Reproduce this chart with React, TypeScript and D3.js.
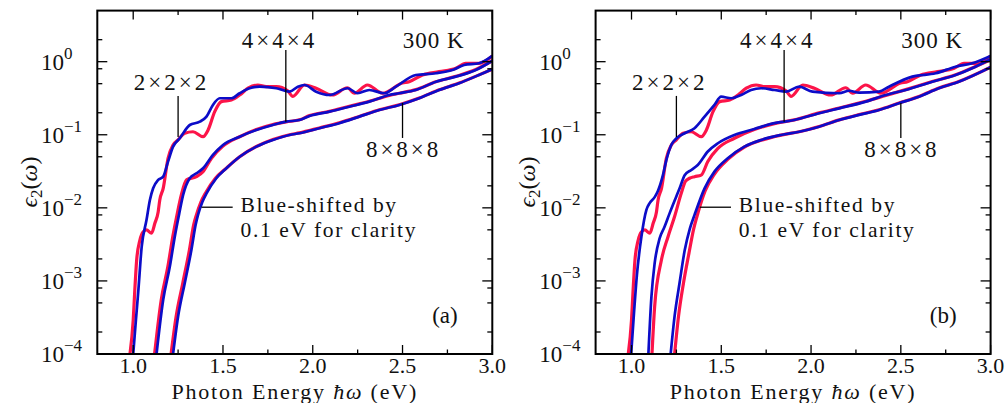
import * as d3 from "d3";

// axis extents and tick values
const E_DOMAIN: [number, number] = [0.8, 3.0];
const EPS_DOMAIN: [number, number] = [1e-4, 5];
const xMajorTicks = [1.0, 1.5, 2.0, 2.5, 3.0];
const xMinorTicks = [1.25, 1.75, 2.25, 2.75];
const yDecades = [-4, -3, -2, -1, 0];
const yMinorFactors = [2, 5, 8];
const panelTags = ["(a)", "(b)"];

type Pt = [number, number];

// panel (a): [photon energy eV, eps2]
const aRed222: Pt[] = [[0.982,1.0e-4],[1.0,2.9e-4],[1.009,7.6e-4],[1.019,1.9e-3],[1.037,3.6e-3],[1.056,4.7e-3],[1.074,5.0e-3],[1.102,4.5e-3],[1.121,6.2e-3],[1.139,8.8e-3],[1.148,1.28e-2],[1.167,1.85e-2],[1.194,4.77e-2],[1.222,7.25e-2],[1.25,8.5e-2],[1.287,0.105],[1.333,0.11],[1.389,0.094],[1.417,0.116],[1.454,0.207],[1.491,0.284],[1.547,0.299],[1.593,0.35],[1.639,0.433],[1.694,0.48],[1.741,0.455],[1.797,0.455],[1.86,0.4],[1.889,0.335],[1.954,0.48],[2.019,0.433],[2.109,0.35],[2.193,0.44],[2.232,0.37],[2.304,0.48],[2.388,0.37],[2.499,0.51],[2.537,0.532],[2.611,0.658],[2.704,0.73],[2.797,0.812],[2.852,0.951],[2.926,0.951],[3.0,1.2]];
const aBlue222: Pt[] = [[1.0,1e-4],[1.015,2.9e-4],[1.029,7.6e-4],[1.047,2.9e-3],[1.074,6.8e-3],[1.093,1.28e-2],[1.111,1.85e-2],[1.139,2.41e-2],[1.167,2.67e-2],[1.194,4.29e-2],[1.222,6.88e-2],[1.259,8.95e-2],[1.315,0.136],[1.371,0.151],[1.408,0.177],[1.444,0.256],[1.482,0.316],[1.547,0.316],[1.593,0.37],[1.648,0.433],[1.704,0.455],[1.797,0.433],[1.871,0.389],[1.917,0.455],[1.954,0.48],[2.019,0.389],[2.093,0.35],[2.194,0.433],[2.25,0.37],[2.315,0.41],[2.398,0.37],[2.463,0.455],[2.574,0.658],[2.686,0.694],[2.778,0.769],[2.843,0.901],[2.926,0.951],[3.0,1.2]];
const aRed444: Pt[] = [[1.119,1e-4],[1.156,5.5e-4],[1.193,1.57e-3],[1.221,4.1e-3],[1.246,8.5e-3],[1.268,1.5e-2],[1.297,2.41e-2],[1.352,2.67e-2],[1.389,3.13e-2],[1.436,4.77e-2],[1.5,7.0e-2],[1.593,9.4e-2],[1.686,0.118],[1.778,0.138],[1.852,0.15],[1.926,0.16],[1.982,0.183],[2.093,0.209],[2.204,0.245],[2.315,0.287],[2.426,0.345],[2.482,0.37],[2.574,0.415],[2.686,0.53],[2.797,0.63],[2.908,0.78],[3.0,1.03]];
const aBlue444: Pt[] = [[1.13,1e-4],[1.167,5.5e-4],[1.204,1.57e-3],[1.232,4.1e-3],[1.257,8.5e-3],[1.278,1.5e-2],[1.315,2.54e-2],[1.352,2.97e-2],[1.389,3.48e-2],[1.444,5.29e-2],[1.5,7.25e-2],[1.593,9.42e-2],[1.686,0.116],[1.778,0.136],[1.852,0.151],[1.926,0.159],[1.982,0.181],[2.093,0.207],[2.204,0.242],[2.315,0.284],[2.426,0.35],[2.482,0.37],[2.574,0.41],[2.686,0.532],[2.797,0.624],[2.908,0.769],[3.0,1.03]];
const aRed888: Pt[] = [[1.211,1e-4],[1.239,3.25e-4],[1.276,9.3e-4],[1.313,2.65e-3],[1.337,5.9e-3],[1.352,8e-3],[1.377,1.2e-2],[1.403,1.6e-2],[1.458,2.54e-2],[1.519,3.5e-2],[1.593,5.0e-2],[1.686,6.9e-2],[1.778,8.6e-2],[1.871,0.1],[1.926,0.106],[2.037,0.124],[2.148,0.146],[2.259,0.178],[2.371,0.22],[2.482,0.258],[2.593,0.318],[2.704,0.412],[2.815,0.51],[2.926,0.66],[3.0,0.79]];
const aBlue888: Pt[] = [[1.222,1e-4],[1.25,3.25e-4],[1.287,9.3e-4],[1.324,2.65e-3],[1.348,5.9e-3],[1.361,8e-3],[1.385,1.2e-2],[1.41,1.6e-2],[1.463,2.54e-2],[1.519,3.48e-2],[1.593,5.0e-2],[1.686,6.88e-2],[1.778,8.49e-2],[1.871,9.94e-2],[1.926,0.105],[2.037,0.123],[2.148,0.144],[2.259,0.177],[2.371,0.218],[2.482,0.256],[2.593,0.316],[2.704,0.41],[2.815,0.507],[2.926,0.658],[3.0,0.79]];

// panel (b)
const bRed222: Pt[] = aRed222;
const bBlue222: Pt[] = [[0.998,1e-4],[1.015,4e-4],[1.03,1.2e-3],[1.055,4.0e-3],[1.083,9.4e-3],[1.101,1.16e-2],[1.129,1.4e-2],[1.147,1.7e-2],[1.175,2.8e-2],[1.194,4.5e-2],[1.222,7.3e-2],[1.249,8.9e-2],[1.296,0.105],[1.351,0.123],[1.407,0.177],[1.462,0.256],[1.499,0.332],[1.555,0.316],[1.611,0.35],[1.666,0.41],[1.722,0.433],[1.796,0.41],[1.861,0.389],[1.934,0.455],[2.008,0.389],[2.157,0.37],[2.212,0.4],[2.268,0.377],[2.379,0.389],[2.434,0.455],[2.564,0.624],[2.694,0.694],[2.805,0.854],[2.897,0.95],[3.0,1.2]];
const bRed444: Pt[] = [[1.114,1e-4],[1.129,4.5e-4],[1.166,1.9e-3],[1.203,4.0e-3],[1.24,7.6e-3],[1.277,1.58e-2],[1.3,2.3e-2],[1.323,2.54e-2],[1.351,2.67e-2],[1.388,2.8e-2],[1.425,4.3e-2],[1.481,6.5e-2],[1.573,8.95e-2],[1.684,0.118],[1.796,0.142],[1.907,0.16],[2.045,0.199],[2.157,0.232],[2.305,0.287],[2.416,0.345],[2.527,0.415],[2.675,0.535],[2.805,0.66],[2.916,0.86],[3.0,1.06]];
const bBlue444: Pt[] = [[1.094,1e-4],[1.111,6.1e-4],[1.129,1.75e-3],[1.157,3.84e-3],[1.184,5.5e-3],[1.212,8.4e-3],[1.249,1.42e-2],[1.268,1.85e-2],[1.296,2.8e-2],[1.333,3.3e-2],[1.369,3.86e-2],[1.425,5.9e-2],[1.481,7.65e-2],[1.573,9.94e-2],[1.684,0.12],[1.796,0.144],[1.907,0.159],[2.045,0.197],[2.157,0.23],[2.305,0.284],[2.416,0.35],[2.527,0.41],[2.675,0.532],[2.805,0.658],[2.916,0.854],[3.0,1.08]];
const bRed888: Pt[] = [[1.24,1e-4],[1.262,3.3e-4],[1.29,9.5e-4],[1.32,2.4e-3],[1.345,5e-3],[1.37,8.5e-3],[1.41,1.7e-2],[1.462,2.9e-2],[1.536,4.6e-2],[1.629,6.8e-2],[1.722,8.4e-2],[1.833,9.9e-2],[1.934,0.11],[2.045,0.13],[2.157,0.16],[2.268,0.189],[2.379,0.22],[2.49,0.272],[2.601,0.335],[2.712,0.435],[2.823,0.535],[3.0,0.84]];
const bBlue888: Pt[] = [[1.218,1e-4],[1.24,3.3e-4],[1.268,9.5e-4],[1.296,2.6e-3],[1.325,5.2e-3],[1.351,8e-3],[1.407,1.85e-2],[1.462,3.13e-2],[1.536,4.77e-2],[1.629,6.88e-2],[1.722,8.5e-2],[1.833,9.94e-2],[1.934,0.11],[2.045,0.129],[2.157,0.159],[2.268,0.187],[2.379,0.218],[2.49,0.27],[2.601,0.332],[2.712,0.433],[2.823,0.532],[3.0,0.84]];

const panelCurves: { red: Pt[]; blue: Pt[] }[][] = [
  [{ red: aRed222, blue: aBlue222 }, { red: aRed444, blue: aBlue444 }, { red: aRed888, blue: aBlue888 }],
  [{ red: bRed222, blue: bBlue222 }, { red: bRed444, blue: bBlue444 }, { red: bRed888, blue: bBlue888 }],
];

const RED = "#fc1449";
const BLUE = "#0c0cc8";
const FONT = "'Liberation Serif', 'Times New Roman', serif";

const W = 1006;
const H = 403;
const PANEL_SHIFT = 498.3;
const plot = { left: 97.3, right: 492.3, top: 10.6, bottom: 354 };

function Panel({ idx }: { idx: number }) {
  const x = d3.scaleLinear().domain(E_DOMAIN).range([plot.left, plot.right]);
  const y = d3.scaleLog().domain(EPS_DOMAIN).range([plot.bottom, plot.top]);
  const line = d3
    .line<Pt>()
    .x((d) => x(d[0]))
    .y((d) => y(d[1]))
    .curve(d3.curveMonotoneX);
  const clipId = `clip-${idx}`;
  const fmt = d3.format(".1f");

  const yMinor: number[] = [];
  [-5, ...yDecades].forEach((n) =>
    yMinorFactors.forEach((f) => {
      const v = f * Math.pow(10, n);
      if (v > EPS_DOMAIN[0] && v < EPS_DOMAIN[1]) yMinor.push(v);
    })
  );

  const txt = { fontFamily: FONT, fontSize: 23, fill: "#111" } as const;

  return (
    <g transform={`translate(${idx * PANEL_SHIFT},0)`}>
      <defs>
        <clipPath id={clipId}>
          <rect x={plot.left} y={plot.top} width={plot.right - plot.left} height={plot.bottom - plot.top} />
        </clipPath>
      </defs>

      <g clipPath={`url(#${clipId})`}>
        {panelCurves[idx].map((c, i) => (
          <path key={`r${i}`} d={line(c.red) || ""} fill="none" stroke={RED} strokeWidth={3.2} strokeLinejoin="round" />
        ))}
        {panelCurves[idx].map((c, i) => (
          <path key={`b${i}`} d={line(c.blue) || ""} fill="none" stroke={BLUE} strokeWidth={2.7} strokeLinejoin="round" />
        ))}
      </g>

      {/* ticks, inward on all four sides */}
      <g stroke="#000" strokeWidth={1.3}>
        {xMajorTicks.map((t) => (
          <g key={`xM${t}`}>
            <line x1={x(t)} x2={x(t)} y1={plot.bottom} y2={plot.bottom - 9} />
            <line x1={x(t)} x2={x(t)} y1={plot.top} y2={plot.top + 9} />
          </g>
        ))}
        {xMinorTicks.map((t) => (
          <g key={`xm${t}`}>
            <line x1={x(t)} x2={x(t)} y1={plot.bottom} y2={plot.bottom - 4.5} />
            <line x1={x(t)} x2={x(t)} y1={plot.top} y2={plot.top + 4.5} />
          </g>
        ))}
        {yDecades.map((n) => (
          <g key={`yM${n}`}>
            <line x1={plot.left} x2={plot.left + 10} y1={y(Math.pow(10, n))} y2={y(Math.pow(10, n))} />
            <line x1={plot.right} x2={plot.right - 10} y1={y(Math.pow(10, n))} y2={y(Math.pow(10, n))} />
          </g>
        ))}
        {yMinor.map((v) => (
          <g key={`ym${v}`}>
            <line x1={plot.left} x2={plot.left + 5} y1={y(v)} y2={y(v)} />
            <line x1={plot.right} x2={plot.right - 5} y1={y(v)} y2={y(v)} />
          </g>
        ))}
      </g>

      <rect x={plot.left} y={plot.top} width={plot.right - plot.left} height={plot.bottom - plot.top}
        fill="none" stroke="#000" strokeWidth={2} />

      {/* tick labels */}
      {xMajorTicks.map((t) => (
        <text key={`xl${t}`} x={x(t)} y={373} textAnchor="middle" {...txt} fontSize={22}>{fmt(t)}</text>
      ))}
      {yDecades.map((n) => (
        <text key={`yl${n}`} x={41} y={y(Math.pow(10, n)) + 8} {...txt}>
          10<tspan dy={-11} fontSize={17}>{n < 0 ? `\u2212${-n}` : `${n}`}</tspan>
        </text>
      ))}

      {/* axis titles */}
      <text x={(plot.left + plot.right) / 2} y={399} textAnchor="middle" {...txt} fontSize={22} letterSpacing={1.8}>
        Photon Energy <tspan fontStyle="italic">ħω</tspan> (eV)
      </text>
      <text transform={`translate(37,${182}) rotate(-90)`} textAnchor="middle" {...txt} fontSize={24}>
        <tspan fontStyle="italic">ϵ</tspan>
        <tspan fontSize={17} dy={5}>2</tspan>
        <tspan dy={-5}>(</tspan>
        <tspan fontStyle="italic">ω</tspan>)
      </text>

      {/* annotations */}
      <g stroke="#000" strokeWidth={1.3}>
        <line x1={x(1.25)} x2={x(1.25)} y1={y(0.34)} y2={y(0.093)} />
        <line x1={x(1.85)} x2={x(1.85)} y1={y(1.44)} y2={y(0.151)} />
        <line x1={x(2.5)} x2={x(2.5)} y1={y(0.272)} y2={y(0.0904)} />
        <line x1={x(1.38)} x2={x(1.554)} y1={y(0.0102)} y2={y(0.0102)} />
      </g>
      <text x={x(1.213)} y={y(0.41)} textAnchor="middle" {...txt} letterSpacing={3}>2×2×2</text>
      <text x={x(1.815)} y={y(1.52)} textAnchor="middle" {...txt} letterSpacing={3}>4×4×4</text>
      <text x={x(2.674)} y={y(1.52)} textAnchor="middle" {...txt} letterSpacing={1}>300 K</text>
      <text x={x(2.506)} y={y(0.05)} textAnchor="middle" {...txt} letterSpacing={3}>8×8×8</text>
      <text x={x(1.598)} y={y(8.9e-3)} {...txt} fontSize={21.5} letterSpacing={1.6}>Blue-shifted by</text>
      <text x={x(1.598)} y={y(4.0e-3)} {...txt} fontSize={21.5} letterSpacing={1.6}>0.1 eV for clarity</text>
      <text x={x(2.736)} y={y(2.66e-4)} textAnchor="middle" {...txt}>{panelTags[idx]}</text>
    </g>
  );
}

export default function App() {
  return (
    <svg width={W} height={H} style={{ position: "absolute", left: 0, top: 0, background: "#fff" }}>
      <rect width={W} height={H} fill="#fff" />
      <Panel idx={0} />
      <Panel idx={1} />
    </svg>
  );
}
